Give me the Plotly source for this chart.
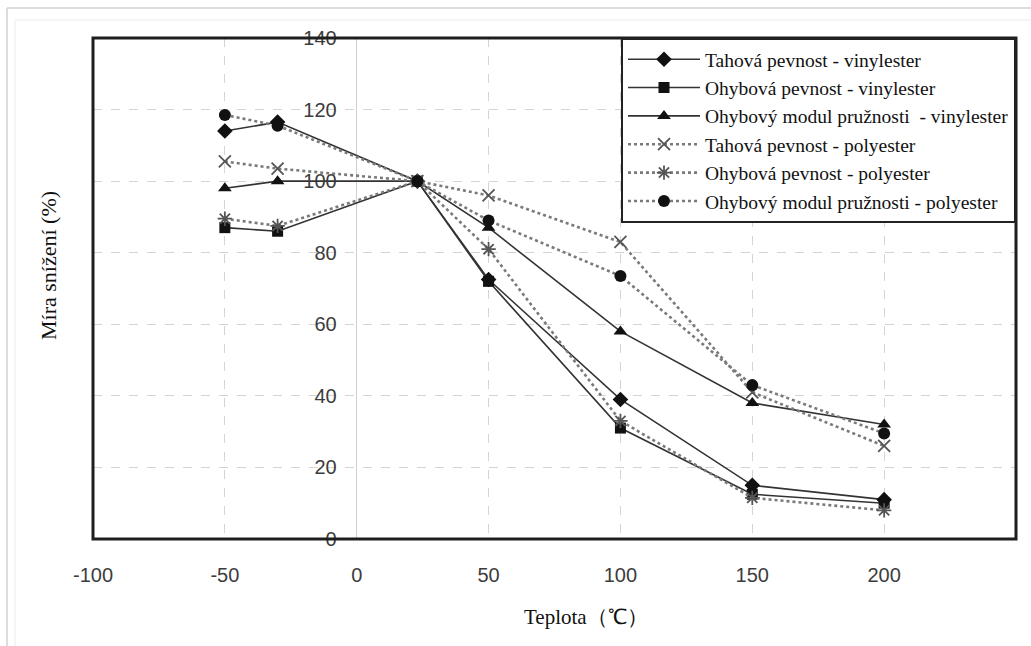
import plotly.graph_objects as go

# Temperature (°C) at which each property was measured
teplota = [-50, -30, 23, 50, 100, 150, 200]

# Retained property, % of the room-temperature value
tah_vinyl = [114, 116.5, 100, 72.5, 39, 15, 11]
ohyb_vinyl = [87, 86, 100, 72, 31, 12.5, 10]
modul_vinyl = [98, 100, 100, 87, 58, 38, 32]
tah_poly = [105.5, 103.5, 100, 96, 83, 41, 26]
ohyb_poly = [89.5, 87.5, 100, 81, 33, 11.5, 8]
modul_poly = [118.5, 115.5, 100, 89, 73.5, 43, 29.5]

x_ticks = [-100, -50, 0, 50, 100, 150, 200, 250]
x_tick_text = ["-100", "-50", "0", "50", "100", "150", "200", "250"]
y_ticks = [0, 20, 40, 60, 80, 100, 120, 140]
y_tick_text = ["0", "20", "40", "60", "80", "100", "120", "140"]

series = [
    ("Tahová pevnost - vinylester", tah_vinyl, "solid", "diamond", 12),
    ("Ohybová pevnost - vinylester", ohyb_vinyl, "solid", "square", 11),
    ("Ohybový modul pružnosti  - vinylester", modul_vinyl, "solid", "triangle-up", 12),
    ("Tahová pevnost - polyester", tah_poly, "dot", "x-thin-open", 12),
    ("Ohybová pevnost - polyester", ohyb_poly, "dot", "asterisk-open", 12),
    ("Ohybový modul pružnosti - polyester", modul_poly, "dot", "circle", 12),
]

fig = go.Figure()
for name, vals, dash, symbol, size in series:
    polyester = dash == "dot"
    line_color = "#7a7a7a" if polyester else "#333333"
    if symbol.endswith("-open"):
        marker = dict(symbol=symbol, size=size, color="#555555",
                      line=dict(color="#555555", width=1.8))
    else:
        marker = dict(symbol=symbol, size=size, color="#111111",
                      line=dict(width=0))
    fig.add_trace(go.Scatter(
        x=teplota, y=vals, name=name, mode="lines+markers",
        line=dict(color=line_color, width=2.6 if polyester else 1.6, dash=dash),
        marker=marker,
    ))

tick_font = dict(family="Liberation Sans, Arial, sans-serif", size=20, color="#3c3c3c")
serif = "Liberation Serif, Times New Roman, serif"

fig.update_layout(
    width=1031, height=646,
    margin=dict(l=93, r=15, t=38, b=107),
    paper_bgcolor="white", plot_bgcolor="white",
    showlegend=True,
    legend=dict(
        x=1, y=1, xanchor="right", yanchor="top",
        bgcolor="white", bordercolor="#222222", borderwidth=2,
        font=dict(family=serif, size=19.5, color="#111111"),
        itemwidth=72, entrywidth=440,
    ),
    xaxis=dict(
        range=[-100, 250], tickvals=x_ticks, ticktext=x_tick_text,
        tickfont=tick_font, ticks="", ticklabelstandoff=22,
        showgrid=True, gridcolor="#d4d4d4", griddash="dash", gridwidth=1,
        zeroline=True, zerolinecolor="#cfcfcf", zerolinewidth=1,
        showline=False,
    ),
    yaxis=dict(
        range=[0, 140], tickvals=y_ticks, ticktext=y_tick_text,
        tickfont=tick_font, ticks="", ticklabelstandoff=20,
        anchor="free", position=100 / 350, side="left",
        showgrid=True, gridcolor="#d4d4d4", griddash="dash", gridwidth=1,
        zeroline=False, showline=False,
    ),
    shapes=[
        # plot frame
        dict(type="rect", xref="paper", yref="paper", x0=0, y0=0, x1=1, y1=1,
             line=dict(color="#1e1e1e", width=3), layer="above"),
        # page border lines
        dict(type="line", xref="paper", yref="paper",
             x0=-86 / 923, x1=1.02, y0=(539 - 8) / 501, y1=(539 - 8) / 501,
             line=dict(color="#d2d2d2", width=1.5)),
        dict(type="line", xref="paper", yref="paper",
             x0=-86 / 923, x1=-86 / 923, y0=(539 - 8) / 501, y1=-0.22,
             line=dict(color="#d2d2d2", width=1.5)),
        dict(type="line", xref="paper", yref="paper",
             x0=-78 / 923, x1=1.02, y0=(539 - 20) / 501, y1=(539 - 20) / 501,
             line=dict(color="#ebebeb", width=1)),
        dict(type="line", xref="paper", yref="paper",
             x0=-78 / 923, x1=-78 / 923, y0=(539 - 20) / 501, y1=-0.22,
             line=dict(color="#ebebeb", width=1)),
    ],
    annotations=[
        dict(text="Míra snížení (%)", xref="paper", yref="paper",
             x=(48 - 93) / 923, y=(539 - 266) / 501, textangle=-90,
             showarrow=False, xanchor="center", yanchor="middle",
             font=dict(family=serif, size=22, color="#111111")),
        dict(text="Teplota（℃）", xref="paper", yref="paper",
             x=(586 - 93) / 923, y=(539 - 617) / 501,
             showarrow=False, xanchor="center", yanchor="middle",
             font=dict(family=serif, size=21, color="#111111")),
    ],
)

fig.write_html("out.html")
